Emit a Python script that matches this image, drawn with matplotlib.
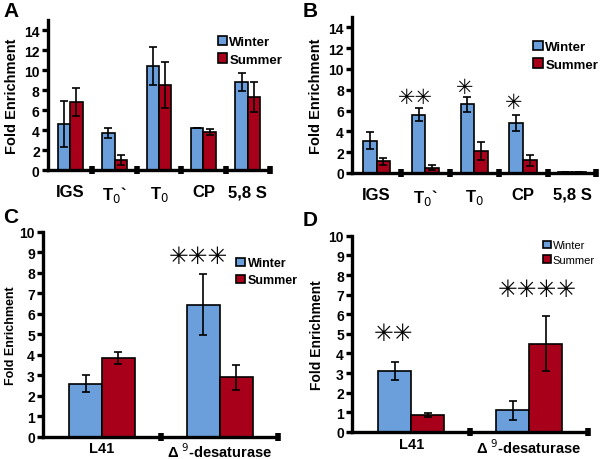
import matplotlib
matplotlib.use('Agg')
import matplotlib.pyplot as plt
import numpy as np

plt.rcParams['font.family'] = ['Liberation Sans', 'DejaVu Sans']

# panel A / B : rDNA regions
regions = ['IGS', r'T$_0$`', r'T$_0$', 'CP', '5,8 S']
a_winter = [4.6, 3.7, 10.4, 4.2, 8.8]
a_winter_err = [2.3, 0.5, 1.9, 0.0, 0.9]
a_summer = [6.8, 1.0, 8.5, 3.8, 7.3]
a_summer_err = [1.4, 0.5, 2.3, 0.3, 1.5]

b_winter = [3.1, 5.6, 6.6, 4.8, 0.05]
b_winter_err = [0.8, 0.6, 0.7, 0.8, 0.0]
b_summer = [1.1, 0.5, 2.1, 1.2, 0.1]
b_summer_err = [0.3, 0.25, 0.9, 0.5, 0.0]
b_stars = ['', '✳✳', '✳', '✳', '']
b_star_y = [0, 7.3, 8.3, 6.8, 0]

# panel C / D : genes
genes = ['L41', r'Δ $^9$-desaturase']
c_winter = [2.6, 6.45]
c_winter_err = [0.4, 1.5]
c_summer = [3.85, 2.9]
c_summer_err = [0.3, 0.6]
c_stars = ['', '✳✳✳']
c_star_y = [0, 8.8]

d_winter = [3.1, 1.1]
d_winter_err = [0.45, 0.5]
d_summer = [0.85, 4.5]
d_summer_err = [0.1, 1.4]
d_stars = ['✳✳', '✳✳✳✳']
d_star_y = [5.05, 7.3]

blue = '#6a9fdc'
red = '#a8001a'


def panel(ax, labels, win, win_err, summ, summ_err, ymax, yticks, lab_size, lab_pad,
          leg_pos, leg_size, leg_bold=True, ylab_size=10.5, ylab_pad=4,
          stars=None, star_y=None, star_size=16, star_dx=None):
    n = len(labels)
    x = np.arange(n) + 0.5
    w = 0.28
    ax.bar(x - w / 2, win, w, color=blue, edgecolor='black', linewidth=1.2,
           yerr=win_err, error_kw=dict(ecolor='black', elinewidth=1.2, capsize=3, capthick=1.2),
           label='Winter', zorder=2)
    ax.bar(x + w / 2, summ, w, color=red, edgecolor='black', linewidth=1.2,
           yerr=summ_err, error_kw=dict(ecolor='black', elinewidth=1.2, capsize=3, capthick=1.2),
           label='Summer', zorder=2)
    ax.set_xlim(0, n)
    ax.set_ylim(0, ymax)
    ax.set_yticks(yticks)
    ax.set_xticks(np.arange(1, n + 1))
    ax.set_xticklabels([])
    for xi, lab in zip(x, labels):
        ax.annotate(lab, xy=(xi, 0), xycoords=('data', 'axes fraction'),
                    xytext=(0, -lab_pad), textcoords='offset points',
                    ha='center', va='top', fontsize=lab_size, fontweight='bold')
    for s in ['top', 'right']:
        ax.spines[s].set_visible(False)
    for s in ['left', 'bottom']:
        ax.spines[s].set_linewidth(2.4)
    ax.tick_params(axis='x', direction='inout', length=6, width=4)
    ax.tick_params(axis='y', direction='out', length=4, width=2.4, labelsize=10, pad=2)
    for t in ax.get_yticklabels():
        t.set_fontweight('bold')
    ax.set_ylabel('Fold Enrichment', fontsize=ylab_size, fontweight='bold', labelpad=ylab_pad)
    if stars is not None:
        for xi, s, sy, dx in zip(x, stars, star_y, star_dx):
            if s:
                ax.text(xi + dx, sy, s, ha='center', va='center', fontsize=star_size,
                        family='DejaVu Sans', color='black')
    ax.legend(loc='upper left', bbox_to_anchor=leg_pos, frameon=False,
              handlelength=0.7, handleheight=0.7, handletextpad=0.2, labelspacing=0.4,
              borderaxespad=0, prop=dict(weight='bold' if leg_bold else 'normal', size=leg_size))


fig = plt.figure(figsize=(6, 4.6), dpi=100)

axA = fig.add_axes([0.08, 0.628, 0.37, 0.326])
panel(axA, regions, a_winter, a_winter_err, a_summer, a_summer_err, 15,
      [0, 2, 4, 6, 8, 10, 12, 14], 12, 10, (0.74, 0.93), 9.5)

axB = fig.add_axes([0.587, 0.622, 0.407, 0.339])
panel(axB, regions, b_winter, b_winter_err, b_summer, b_summer_err, 15,
      [0, 2, 4, 6, 8, 10, 12, 14], 12, 10, (0.72, 0.88), 9.5,
      stars=b_stars, star_y=b_star_y, star_size=15, star_dx=[-0.2] * 5)

axC = fig.add_axes([0.072, 0.048, 0.392, 0.446])
panel(axC, genes, c_winter, c_winter_err, c_summer, c_summer_err, 10,
      range(11), 10.5, 3, (0.8, 0.9), 9, ylab_size=9, ylab_pad=2,
      stars=c_stars, star_y=c_star_y, star_size=17, star_dx=[0, -0.18])

axD = fig.add_axes([0.587, 0.059, 0.393, 0.426])
panel(axD, genes, d_winter, d_winter_err, d_summer, d_summer_err, 10,
      range(11), 10.5, 4, (0.79, 1.0), 8, leg_bold=False, ylab_size=10, ylab_pad=3,
      stars=d_stars, star_y=d_star_y, star_size=17, star_dx=[-0.15, 0.07])

for lab, xx, yy in [('A', 0.005, 0.975), ('B', 0.505, 0.975), ('C', 0.005, 0.527), ('D', 0.505, 0.52)]:
    fig.text(xx, yy, lab, fontsize=15, fontweight='bold', va='center', ha='left')

fig.savefig('out.png', dpi=100)
